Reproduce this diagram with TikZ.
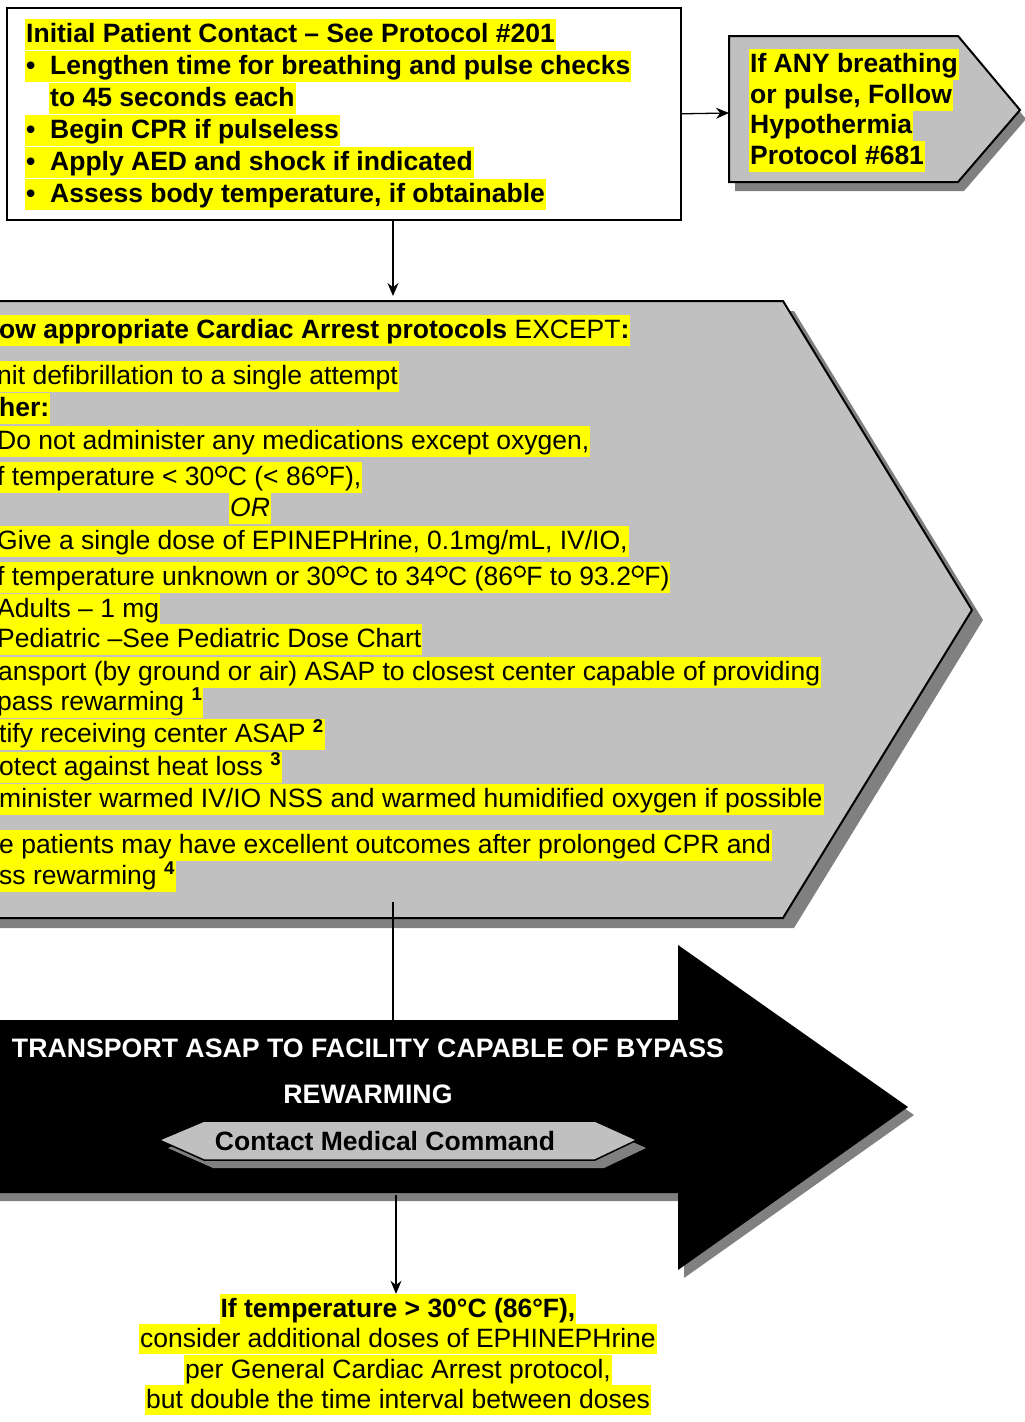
\documentclass[tikz,border=0pt]{standalone}
\usepackage{fontspec}
\setmainfont{Liberation Sans}
\usepackage{tikz}
\usetikzlibrary{positioning, arrows.meta, shadows}
\definecolor{panelGray}{RGB}{192, 192, 192}
\definecolor{shadowGray}{RGB}{128, 128, 128}
\definecolor{markYellow}{RGB}{255, 255, 0}
\newcommand{\degsup}{\tikz[baseline=0pt]{\path (0pt,0pt) rectangle (13.4pt,1pt);
    \draw[black, line width=1.7pt] (6.7pt,13.4pt) circle[radius=5.3pt];}}
\tikzset{
    note_line/.style={
        fill=markYellow,
        inner xsep=1pt,
        inner ysep=0pt,
        text height=23.5pt,
        text depth=7.5pt,
        anchor=base west,
        font=\fontsize{26.5}{32}\selectfont
    },
    note_bold/.style={
        note_line,
        font=\fontsize{26.5}{32}\selectfont\bfseries
    },
    note_center/.style={
        note_line,
        anchor=base,
        text height=23pt,
        text depth=7pt
    },
    panel_shape/.style={
        fill=panelGray,
        draw=black,
        line width=2pt
    },
    casts/.style 2 args={
        drop shadow={shadow xshift=#1, shadow yshift=-#2, fill=shadowGray, opacity=1}
    },
    banner_text/.style={
        anchor=base,
        inner sep=0pt,
        text=white,
        font=\fontsize{26.7}{32}\selectfont\bfseries
    },
    flow_edge/.style={
        -{Stealth[length=13pt, width=11pt]},
        line width=1.3pt,
        draw=black
    },
    flow_line/.style={
        line width=1.3pt,
        draw=black
    }
}

\begin{document}
\begin{tikzpicture}[x=1pt, y=-1pt]
    \useasboundingbox (0,0) rectangle (1025,1422);
    \clip (0,0) rectangle (1025,1422);
    \fill[white] (0,0) rectangle (1025,1422);

    % shapes
    \node[draw, line width=1.6pt, fill=white, inner sep=0pt, minimum width=674pt,
          minimum height=212pt, anchor=north west] (contact) at (6,7) {};
    \draw[panel_shape, casts={6pt}{9pt}]
        (729,36) -- (958,36) -- (1020,110) -- (958,182) -- (729,182) -- cycle;
    \draw[panel_shape, casts={11pt}{10pt}]
        (-20,301) -- (783,301) -- (972,610) -- (783,918) -- (-20,918) -- cycle;
    \fill[black, casts={6pt}{8pt}]
        (-20,1020) -- (678,1020) -- (678,945) -- (908,1107) -- (678,1270)
        -- (678,1193) -- (-20,1193) -- cycle;
    \draw[panel_shape, line width=1.5pt, casts={9pt}{8pt}]
        (159,1140) -- (204,1121) -- (595,1121) -- (637,1140) -- (595,1160)
        -- (204,1160) -- cycle;

    \coordinate (hypo_w) at (729,113);
    \coordinate (spine) at (393,0);
    \coordinate (arrest_n) at (393,296);
    \coordinate (arrest_s) at (393,902);
    \coordinate (transport_n) at (393,1020);
    \coordinate (transport_s) at (396,1195);

    % initial contact
    \node[note_bold] (c1) at (25,42) {Initial Patient Contact – See Protocol \#201};
    \node[note_bold] (c2) at (25,74) {\makebox[24pt][l]{•}Lengthen time for breathing and pulse checks};
    \node[note_bold] (c3) at (49,106) {to 45 seconds each};
    \node[note_bold] (c4) at (25,138) {\makebox[24pt][l]{•}Begin CPR if pulseless};
    \node[note_bold] (c5) at (25,170) {\makebox[24pt][l]{•}Apply AED and shock if indicated};
    \node[note_bold] (c6) at (25,202) {\makebox[24pt][l]{•}Assess body temperature, if obtainable};

    % hypothermia
    \node[note_bold] (h1) at (749,72) {If ANY breathing};
    \node[note_bold] (h2) at (749,103) {or pulse, Follow};
    \node[note_bold] (h3) at (749,133) {Hypothermia};
    \node[note_bold] (h4) at (749,164) {Protocol \#681};

    % cardiac arrest exceptions
    \node[note_line] (a1) at (-2,338) {{\bfseries ow appropriate Cardiac Arrest protocols} EXCEPT\textbf{:}};
    \node[note_line] (a2) at (-4,384) {nit defibrillation to a single attempt};
    \node[note_bold] (a3) at (-2,416) {her:};
    \node[note_line] (a4) at (-4,449) {Do not administer any medications except oxygen,};
    \node[note_line] (a5) at (-4,485) {f temperature < 30\degsup C (< 86\degsup F),};
    \node[note_line] (a6) at (229,516) {\itshape OR};
    \node[note_line] (a7) at (-4,549) {Give a single dose of EPINEPHrine, 0.1mg/mL, IV/IO,};
    \node[note_line] (a8) at (-4,585) {f temperature unknown or 30\degsup C to 34\degsup C (86\degsup F to 93.2\degsup F)};
    \node[note_line] (a9) at (-4,617) {Adults – 1 mg};
    \node[note_line] (a10) at (-4,647) {Pediatric –See Pediatric Dose Chart};
    \node[note_line] (a11) at (-3,680) {ansport (by ground or air) ASAP to closest center capable of providing};
    \node[note_line] (a12) at (-4,710) {pass rewarming \textsuperscript{\bfseries 1}};
    \node[note_line] (a13) at (-2,742) {tify receiving center ASAP \textsuperscript{\bfseries 2}};
    \node[note_line] (a14) at (-2,775) {otect against heat loss \textsuperscript{\bfseries 3}};
    \node[note_line] (a15) at (-2,807) {minister warmed IV/IO NSS and warmed humidified oxygen if possible};
    \node[note_line] (a16) at (-2,853) {e patients may have excellent outcomes after prolonged CPR and};
    \node[note_line] (a17) at (-2,884) {ss rewarming \textsuperscript{\bfseries 4}};

    % transport banner
    \node[banner_text] (t1) at (368,1057) {TRANSPORT ASAP TO FACILITY CAPABLE OF BYPASS};
    \node[banner_text] (t2) at (368,1103) {REWARMING};
    \node[anchor=base, inner sep=0pt, font=\fontsize{26.5}{32}\selectfont\bfseries]
        (command) at (385,1150) {Contact Medical Command};

    % repeat doses note
    \node[note_center, font=\fontsize{26.5}{32}\selectfont\bfseries] (r1) at (398,1317) {If temperature > 30°C (86°F),};
    \node[note_center] (r2) at (398,1347) {consider additional doses of EPHINEPHrine};
    \node[note_center] (r3) at (398,1378) {per General Cardiac Arrest protocol,};
    \node[note_center] (r4) at (398,1408) {but double the time interval between doses};

    \draw[flow_edge] (contact.east) -- (hypo_w);
    \draw[flow_edge] (contact.south -| spine) -- (arrest_n);
    \draw[flow_line] (arrest_s) -- (transport_n);
    \draw[flow_edge] (transport_s) -- (transport_s |- r1.north);
\end{tikzpicture}
\end{document}
